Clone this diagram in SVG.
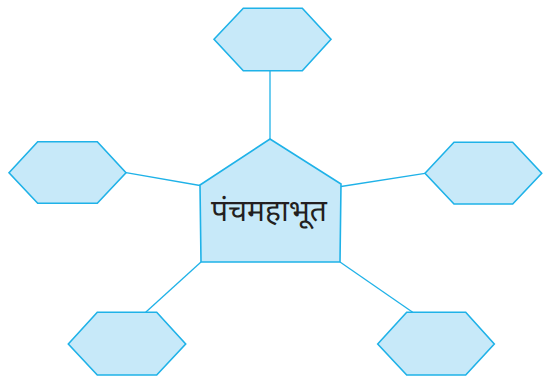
<svg xmlns="http://www.w3.org/2000/svg" width="549" height="382" viewBox="0 0 549 382">
<style>
.shape{fill:#c7e9f9;stroke:#1fb2e8;stroke-width:1.6;stroke-linejoin:miter}
.conn{stroke:#1fb2e8;stroke-width:1.3;fill:none}
.lbl{font-family:"Noto Sans Devanagari","Noto Sans","Lohit Devanagari","Noto Sans CJK SC",sans-serif;font-size:30px;fill:#231f20;text-anchor:middle}
</style>
<rect width="549" height="382" fill="#ffffff"/>
<g id="connectors">
<line class="conn" x1="270" y1="70.7" x2="270" y2="139"/>
<line class="conn" x1="126" y1="172.7" x2="200" y2="185.5"/>
<line class="conn" x1="341" y1="186.5" x2="425" y2="173.3"/>
<line class="conn" x1="145.7" y1="312.3" x2="201" y2="262"/>
<line class="conn" x1="340" y1="262" x2="412.7" y2="312.3"/>
</g>
<g id="center">
<polygon class="shape" points="270,139 341,184 340,262 201,262 200,185"/>
<text class="lbl" x="269" y="221">पंचमहाभूत</text>
</g>
<g id="hex-top">
<polygon class="shape" points="214,39.3 243.3,8.3 302.3,8.3 331,39.3 302.3,70.7 243.3,70.7"/>
</g>
<g id="hex-left">
<polygon class="shape" points="9,172.7 37.7,141.7 97.3,141.7 126,172.7 97.3,203.3 37.7,203.3"/>
</g>
<g id="hex-right">
<polygon class="shape" points="425,173.3 454,142.3 512.7,142.3 541.7,173.3 512.7,204 454,204"/>
</g>
<g id="hex-bottom-left">
<polygon class="shape" points="68.3,344 97.3,312.3 156.7,312.3 185.7,344 156.7,375 97.3,375"/>
</g>
<g id="hex-bottom-right">
<polygon class="shape" points="377.7,344 406.7,312.3 465.7,312.3 494.3,344 465.7,375 406.7,375"/>
</g>
</svg>
